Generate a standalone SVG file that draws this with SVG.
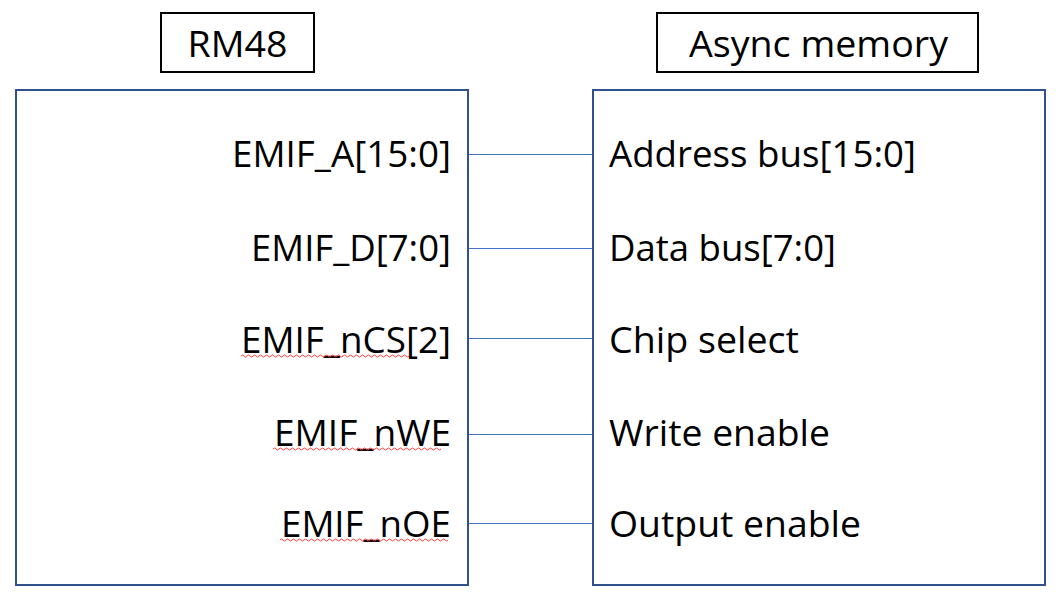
<svg xmlns="http://www.w3.org/2000/svg" width="1059" height="599" viewBox="0 0 1059 599">
<style>
.lbl{fill:#fff;stroke:#000;stroke-width:2}
.blk{fill:#fff;stroke:#2F528F;stroke-width:2}
.t{font-family:"Open Sans","Noto Sans","Liberation Sans",sans-serif;font-size:37px;fill:#000}
.c{text-anchor:middle}
.wire{stroke:#4472C4;stroke-width:1;fill:none}
.sq{stroke:#FF3B3B;stroke-width:1;fill:none}
</style>
<rect width="1059" height="599" fill="#fff"/>
<g id="rm48-label">
<rect class="lbl" x="161" y="13" width="153" height="59"/>
<text class="t c" x="237.5" y="57" textLength="100" lengthAdjust="spacingAndGlyphs">RM48</text>
</g>
<g id="async-label">
<rect class="lbl" x="657" y="13" width="321" height="59"/>
<text class="t c" x="818.5" y="57" textLength="259" lengthAdjust="spacingAndGlyphs">Async memory</text>
</g>
<g id="rm48">
<rect class="blk" x="16" y="90" width="452" height="495"/>
<text class="t" x="232" y="167" textLength="219" lengthAdjust="spacingAndGlyphs">EMIF_A[15:0]</text>
<text class="t" x="251" y="261" textLength="200" lengthAdjust="spacingAndGlyphs">EMIF_D[7:0]</text>
<text class="t" x="241" y="353" textLength="210" lengthAdjust="spacingAndGlyphs">EMIF_nCS[2]</text>
<text class="t" x="274" y="446" textLength="177" lengthAdjust="spacingAndGlyphs">EMIF_nWE</text>
<text class="t" x="281" y="537" textLength="170" lengthAdjust="spacingAndGlyphs">EMIF_nOE</text>
<path class="sq" d="M241 356 q1.5 -2 3 0 t3 0 t3 0 t3 0 t3 0 t3 0 t3 0 t3 0 t3 0 t3 0 t3 0 t3 0 t3 0 t3 0 t3 0 t3 0 t3 0 t3 0 t3 0 t3 0 t3 0 t3 0 t3 0 t3 0 t3 0 t3 0 t3 0 t3 0 t3 0 t3 0 t3 0 t3 0 t3 0 t3 0 t3 0 t3 0 t3 0 t3 0 t3 0 t3 0 t3 0 t3 0 t3 0 t3 0 t3 0 t3 0 t3 0 t3 0 t3 0 t3 0 t3 0 t3 0 t3 0 t3 0 t3 0 t3 0"/>
<path class="sq" d="M273 449 q1.5 -2 3 0 t3 0 t3 0 t3 0 t3 0 t3 0 t3 0 t3 0 t3 0 t3 0 t3 0 t3 0 t3 0 t3 0 t3 0 t3 0 t3 0 t3 0 t3 0 t3 0 t3 0 t3 0 t3 0 t3 0 t3 0 t3 0 t3 0 t3 0 t3 0 t3 0 t3 0 t3 0 t3 0 t3 0 t3 0 t3 0 t3 0 t3 0 t3 0 t3 0 t3 0 t3 0 t3 0 t3 0 t3 0 t3 0 t3 0 t3 0 t3 0 t3 0 t3 0 t3 0 t3 0 t3 0 t3 0 t3 0"/>
<path class="sq" d="M280 540 q1.5 -2 3 0 t3 0 t3 0 t3 0 t3 0 t3 0 t3 0 t3 0 t3 0 t3 0 t3 0 t3 0 t3 0 t3 0 t3 0 t3 0 t3 0 t3 0 t3 0 t3 0 t3 0 t3 0 t3 0 t3 0 t3 0 t3 0 t3 0 t3 0 t3 0 t3 0 t3 0 t3 0 t3 0 t3 0 t3 0 t3 0 t3 0 t3 0 t3 0 t3 0 t3 0 t3 0 t3 0 t3 0 t3 0 t3 0 t3 0 t3 0 t3 0 t3 0 t3 0 t3 0 t3 0 t3 0 t3 0 t3 0"/>
</g>
<g id="async-memory">
<rect class="blk" x="593" y="90" width="452" height="495"/>
<text class="t" x="609" y="167" textLength="307" lengthAdjust="spacingAndGlyphs">Address bus[15:0]</text>
<text class="t" x="609" y="261" textLength="227" lengthAdjust="spacingAndGlyphs">Data bus[7:0]</text>
<text class="t" x="609" y="353" textLength="190" lengthAdjust="spacingAndGlyphs">Chip select</text>
<text class="t" x="609" y="446" textLength="221" lengthAdjust="spacingAndGlyphs">Write enable</text>
<text class="t" x="609" y="537" textLength="252" lengthAdjust="spacingAndGlyphs">Output enable</text>
</g>
<g id="connectors">
<line class="wire" x1="469" y1="154.5" x2="592" y2="154.5"/>
<line class="wire" x1="469" y1="248.5" x2="592" y2="248.5"/>
<line class="wire" x1="469" y1="338.5" x2="592" y2="338.5"/>
<line class="wire" x1="469" y1="434.5" x2="592" y2="434.5"/>
<line class="wire" x1="469" y1="523.5" x2="592" y2="523.5"/>
</g>
</svg>
